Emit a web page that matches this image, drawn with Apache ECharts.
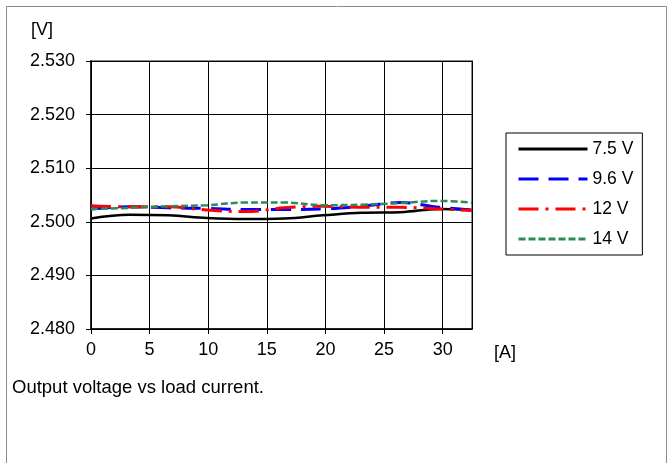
<!DOCTYPE html>
<html>
<head>
<meta charset="utf-8">
<script src="https://cdn.jsdelivr.net/npm/echarts@6/dist/echarts.min.js"></script>
<style>
html,body{margin:0;padding:0;background:#fff;}
#chart{width:669px;height:463px;}
</style>
</head>
<body>
<div id="chart"></div>
<script>
// Load current [A]
const currents = [0, 3.3, 6.6, 9.9, 13.2, 16.5, 19.8, 23.1, 26.4, 29.7, 32.5];
// Output voltage [V] per input voltage
const v7_5 = [2.5006, 2.5013, 2.5012, 2.5007, 2.5005, 2.5006, 2.5012, 2.5017, 2.5018, 2.5024, 2.5022];
const v9_6 = [2.5024, 2.5028, 2.5026, 2.5025, 2.5023, 2.5023, 2.5024, 2.5029, 2.5036, 2.5027, 2.5022];
const v12  = [2.5030, 2.5028, 2.5028, 2.5022, 2.5019, 2.5026, 2.5029, 2.5027, 2.5027, 2.5024, 2.5021];
const v14  = [2.5024, 2.5026, 2.5029, 2.5031, 2.5036, 2.5036, 2.5031, 2.5032, 2.5035, 2.5039, 2.5036];
const seriesNames = ['7.5 V', '9.6 V', '12 V', '14 V'];
const xTicks = {min: 0, max: 32.5, interval: 5};
const yTicks = {min: 2.48, max: 2.53, interval: 0.01};
const caption = 'Output voltage vs load current.';

const font = '"Liberation Sans", Arial, sans-serif';
const pairs = arr => currents.map((x, i) => [x, arr[i]]);

const styles = [
  {color: '#000000', width: 2.5, type: 'solid'},
  {color: '#0000ff', width: 3, type: [20, 10]},
  {color: '#ff0000', width: 3, type: [20, 7, 3, 7]},
  {color: '#2e8b57', width: 2.5, type: [7, 3]}
];
const dataSets = [v7_5, v9_6, v12, v14];

const chart = echarts.init(document.getElementById('chart'), null, {renderer: 'canvas'});
chart.setOption({
  animation: false,
  backgroundColor: '#ffffff',
  textStyle: {fontFamily: font},
  grid: {left: 91, top: 61, width: 381, height: 268, show: true, borderColor: '#8c8c8c', borderWidth: 2, backgroundColor: 'transparent'},
  xAxis: {
    type: 'value', min: xTicks.min, max: xTicks.max, interval: xTicks.interval,
    axisLine: {show: true, onZero: false, lineStyle: {color: '#000', width: 1.5}},
    axisTick: {show: true, length: 5, lineStyle: {color: '#000'}},
    axisLabel: {color: '#000', fontSize: 18, fontFamily: font, margin: 12, showMaxLabel: false},
    splitLine: {show: true, lineStyle: {color: '#000', width: 1}}
  },
  yAxis: {
    type: 'value', min: yTicks.min, max: yTicks.max, interval: yTicks.interval,
    axisLine: {show: true, onZero: false, lineStyle: {color: '#000', width: 1.5}},
    axisTick: {show: true, length: 5, lineStyle: {color: '#000'}},
    axisLabel: {color: '#000', fontSize: 18, fontFamily: font, margin: 16, formatter: v => v.toFixed(3)},
    splitLine: {show: true, lineStyle: {color: '#000', width: 1}}
  },
  legend: {
    orient: 'vertical', left: 506, top: 133,
    padding: [7, 9, 7, 11],
    itemWidth: 69, itemHeight: 14, itemGap: 12,
    borderColor: '#000', borderWidth: 1,
    itemStyle: {opacity: 0},
    lineStyle: {width: 3},
    textStyle: {fontSize: 17.5, color: '#000', fontFamily: font},
    data: seriesNames
  },
  series: dataSets.map((d, i) => ({
    name: seriesNames[i], type: 'line', data: pairs(d), smooth: 0.4,
    symbol: 'none', showSymbol: false,
    lineStyle: {color: styles[i].color, width: styles[i].width, type: styles[i].type},
    itemStyle: {color: styles[i].color}
  })),
  graphic: [
    {type: 'rect', left: 4, top: 4, shape: {x: 0, y: 0, width: 660, height: 470}, style: {fill: 'none', stroke: '#8c8c8c', lineWidth: 1}, silent: true},
    {type: 'text', left: 31, top: 21, style: {text: '[V]', fontSize: 18, fontFamily: font, fill: '#000'}},
    {type: 'text', left: 494, top: 344, style: {text: '[A]', fontSize: 18, fontFamily: font, fill: '#000'}},
    {type: 'text', left: 12, top: 378, style: {text: caption, fontSize: 18.5, fontFamily: font, fill: '#000'}}
  ]
});
</script>
</body>
</html>
